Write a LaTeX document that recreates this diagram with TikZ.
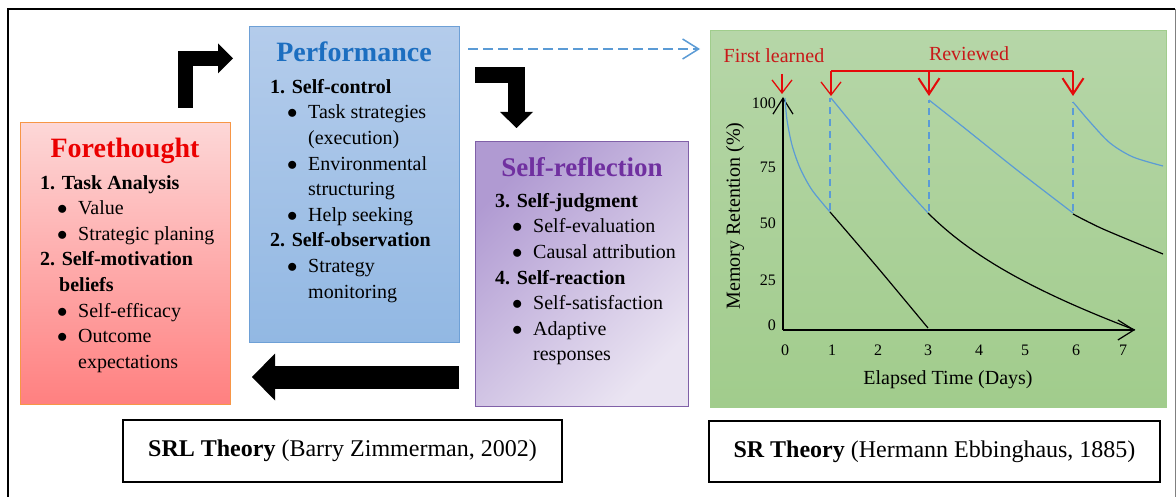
\documentclass[tikz,border=0pt]{standalone}
\usepackage{fontspec}
\setmainfont{Liberation Serif}
\usetikzlibrary{arrows.meta}

\definecolor{perftop}{RGB}{180,204,235}
\definecolor{perfbot}{RGB}{146,184,227}
\definecolor{perfline}{RGB}{110,160,214}
\definecolor{perftext}{RGB}{28,110,192}
\definecolor{foretop}{RGB}{253,215,215}
\definecolor{forebot}{RGB}{255,128,128}
\definecolor{foreline}{RGB}{247,150,70}
\definecolor{foretext}{RGB}{235,0,0}
\definecolor{reftop}{RGB}{176,154,210}
\definecolor{refbot}{RGB}{234,228,242}
\definecolor{refline}{RGB}{128,96,168}
\definecolor{reftext}{RGB}{112,48,160}
\definecolor{srtop}{RGB}{182,214,168}
\definecolor{srbot}{RGB}{161,204,140}
\definecolor{srline}{RGB}{160,205,140}
\definecolor{curveblue}{RGB}{91,155,213}
\definecolor{markred}{RGB}{228,10,10}
\definecolor{notered}{RGB}{200,25,25}

\newcommand{\bitem}[1]{\makebox[38pt][l]{\hspace*{17pt}$\bullet$}#1}
\newcommand{\bcont}[1]{\hspace*{38pt}#1}
\newcommand{\hcont}[1]{\hspace*{19pt}#1}

\tikzset{
  phase/.style={rectangle, draw, line width=1pt, inner sep=0pt},
  phasetitle/.style={anchor=base, font=\fontsize{28}{30}\selectfont\bfseries},
  phaselist/.style={anchor=north west, align=left, inner sep=0pt, font=\fontsize{20}{25.6}\selectfont},
  blockarrow/.style={draw=black, line join=miter},
  caption/.style={rectangle, draw, line width=1.5pt, font=\fontsize{24}{26}\selectfont},
  tick/.style={inner sep=0pt, font=\fontsize{16}{18}\selectfont},
  axislabel/.style={inner sep=0pt, font=\fontsize{20}{22}\selectfont},
  note/.style={inner sep=0pt, text=notered, font=\fontsize{20}{22}\selectfont},
  axis/.style={line width=1.2pt, -{Straight Barb[length=16pt,width=20pt]}},
  decay/.style={line width=1.2pt},
  review/.style={curveblue, line width=1.5pt, dash pattern=on 7pt off 5pt},
  markarrow/.style={markred, line width=1.3pt, -{Straight Barb[length=13pt,width=20pt]}}
}

\begin{document}
\begin{tikzpicture}[x=1pt, y=-1pt]
  \useasboundingbox (0,0) rectangle (1176,497);
  % Frame
  \draw[line width=1.6pt] (8,520) -- (8,9) -- (1175,9);
  \draw[line width=1pt, black!50] (1175,9) -- (1175,520);

  % Phase boxes
  \node (perf) [phase, draw=perfline, top color=perftop, bottom color=perfbot, minimum width=210pt, minimum height=315pt] at (354,184.5) {};
  \node (fore) [phase, draw=foreline, top color=foretop, bottom color=forebot, minimum width=210pt, minimum height=281pt] at (125,263.5) {};
  \node (refl) [phase, draw=refline, top color=reftop, bottom color=refbot, shading angle=45, minimum width=213pt, minimum height=264pt] at (581.5,274) {};
  \node (sr) [phase, draw=srline, top color=srtop, bottom color=srbot, minimum width=456pt, minimum height=376pt] at (938,219) {};

  % Titles
  \node (perf-title) [phasetitle, text=perftext] at (354,62) {Performance};
  \node (fore-title) [phasetitle, text=foretext] at (125,158) {Forethought};
  \node (refl-title) [phasetitle, text=reftext, font=\fontsize{27}{29}\selectfont\bfseries] at (582,177) {Self-reflection};

  % Lists
  \node (perf-list) [phaselist] at (270,79) {\textbf{1. Self-control}\\ \bitem{Task strategies}\\ \bcont{(execution)}\\ \bitem{Environmental}\\ \bcont{structuring}\\ \bitem{Help seeking}\\ \textbf{2. Self-observation}\\ \bitem{Strategy}\\ \bcont{monitoring}};
  \node (fore-list) [phaselist] at (40,175) {\textbf{1. Task Analysis}\\ \bitem{Value}\\ \bitem{Strategic planing}\\ \textbf{2. Self-motivation}\\ \hcont{\textbf{beliefs}}\\ \bitem{Self-efficacy}\\ \bitem{Outcome}\\ \bcont{expectations}};
  \node (refl-list) [phaselist] at (495,193) {\textbf{3. Self-judgment}\\ \bitem{Self-evaluation}\\ \bitem{Causal attribution}\\ \textbf{4. Self-reaction}\\ \bitem{Self-satisfaction}\\ \bitem{Adaptive}\\ \bcont{responses}};

  % Captions
  \node (srl-cap) [caption, minimum width=439pt, minimum height=62pt] at (342.5,451) {\textbf{SRL Theory} (Barry Zimmerman, 2002)};
  \node (sr-cap) [caption, minimum width=451pt, minimum height=61pt] at (934.5,451.5) {\textbf{SR Theory} (Hermann Ebbinghaus, 1885)};

  % Cycle arrows
  \coordinate (up-start) at (185.5,108);
  \coordinate (up-end) at (233,58.5);
  \coordinate (down-start) at (475,75);
  \coordinate (down-end) at (516.5,128);
  \coordinate (back-start) at (459,377);
  \coordinate (back-end) at (252,377);
  \draw[blockarrow, line width=15pt, -{Triangle[length=15pt,width=30pt,line width=0pt]}] (up-start) |- (up-end);
  \draw[blockarrow, line width=16.5pt, -{Triangle[length=16pt,width=33pt,line width=0pt]}] (down-start) -| (down-end);
  \draw[blockarrow, line width=23pt, -{Triangle[length=23pt,width=47pt,line width=0pt]}] (back-start) -- (back-end);

  % Link to the forgetting curve
  \coordinate (link-start) at (468,49);
  \coordinate (link-end) at (700,49);
  \draw[curveblue, line width=1.5pt, dash pattern=on 10pt off 5pt, -{Straight Barb[length=16pt,width=20pt]}] (link-start) -- (link-end);

  % Forgetting curve
  \draw[axis] (783,330) -- (783,97);
  \draw[axis] (783,330) -- (1135,330);
  \foreach \d/\x in {0/785,1/832,2/878,3/928,4/979,5/1025,6/1076,7/1123}
    \node (xt-\d) [tick] at (\x,350) {\d};
  \foreach \v/\y in {100/103,75/167,50/223,25/280,0/325}
    \node (yt-\v) [tick, anchor=east] at (776,\y) {\v};
  \node (xlab) [axislabel] at (948,380) {Elapsed Time (Days)};
  \node (ylab) [axislabel, rotate=90] at (735,216) {Memory Retention (\%)};

  \draw[decay, curveblue] plot[smooth] coordinates {(785,98) (787,120) (792,145) (800,168) (812,190) (830,212)};
  \draw[decay] plot[smooth] coordinates {(830,212) (878,268) (928,328)};
  \draw[decay, curveblue] plot[smooth] coordinates {(831,98) (867,142) (900,182) (928,213)};
  \draw[decay] (928,213) .. controls (970,255) and (1030,290) .. (1135,330);
  \draw[decay, curveblue] plot[smooth] coordinates {(929,100) (967,130) (1017,170) (1073,213)};
  \draw[decay] plot[smooth] coordinates {(1073,214) (1103,229) (1163,254)};
  \draw[decay, curveblue] plot[smooth] coordinates {(1073,102) (1090,122) (1110,143) (1133,157) (1163,166)};
  \draw[review] (830,210) -- (830,98);
  \draw[review] (929,211) -- (929,100);
  \draw[review] (1073,211) -- (1073,102);

  % Review marks
  \node (first) [note] at (774,56) {First learned};
  \node (reviewed) [note] at (969,54) {Reviewed};
  \draw[markarrow] (782,74) -- (782,94);
  \draw[markred, line width=1.5pt] (831,71) -- (1073,71);
  \draw[markarrow] (831,71) -- (831,96);
  \draw[markarrow, line width=2pt, -{Straight Barb[length=16pt,width=21pt]}] (929,71) -- (929,96);
  \draw[markarrow, line width=2pt, -{Straight Barb[length=16pt,width=21pt]}] (1073,71) -- (1073,96);
\end{tikzpicture}
\end{document}
